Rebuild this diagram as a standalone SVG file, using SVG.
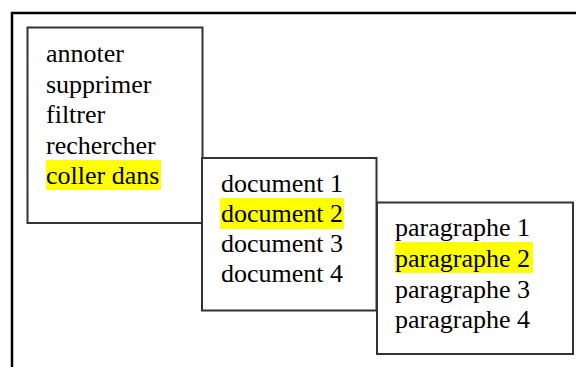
<svg xmlns="http://www.w3.org/2000/svg" width="576" height="367" viewBox="0 0 576 367">
<style>
.frame{fill:none;stroke:#000;stroke-width:2.5}
.box{fill:#fff;stroke:#333;stroke-width:2}
.hl{fill:#ffff00}
.t{font-family:"Liberation Serif","Times New Roman",serif;font-size:26px;fill:#000}
</style>
<rect width="576" height="367" fill="#fff"/>
<rect class="frame" x="12" y="13" width="620" height="420"/>
<g id="actions">
<rect class="box" x="27.5" y="27.5" width="175" height="195.5"/>
<rect class="hl" x="46" y="160" width="115" height="30"/>
<text class="t" x="46" y="62">annoter</text>
<text class="t" x="46" y="92.5">supprimer</text>
<text class="t" x="46" y="123">filtrer</text>
<text class="t" x="46" y="153.5">rechercher</text>
<text class="t" x="46" y="184">coller dans</text>
</g>
<g id="documents">
<rect class="box" x="202" y="158" width="174.5" height="152.5"/>
<rect class="hl" x="220" y="198" width="124" height="31"/>
<text class="t" x="221" y="192">document 1</text>
<text class="t" x="221" y="222">document 2</text>
<text class="t" x="221" y="252">document 3</text>
<text class="t" x="221" y="282">document 4</text>
</g>
<g id="paragraphes">
<rect class="box" x="377" y="202.5" width="196" height="151.5"/>
<rect class="hl" x="395" y="242" width="138" height="31"/>
<text class="t" x="395" y="235.5">paragraphe 1</text>
<text class="t" x="395" y="266.5">paragraphe 2</text>
<text class="t" x="395" y="297.5">paragraphe 3</text>
<text class="t" x="395" y="328">paragraphe 4</text>
</g>
</svg>
